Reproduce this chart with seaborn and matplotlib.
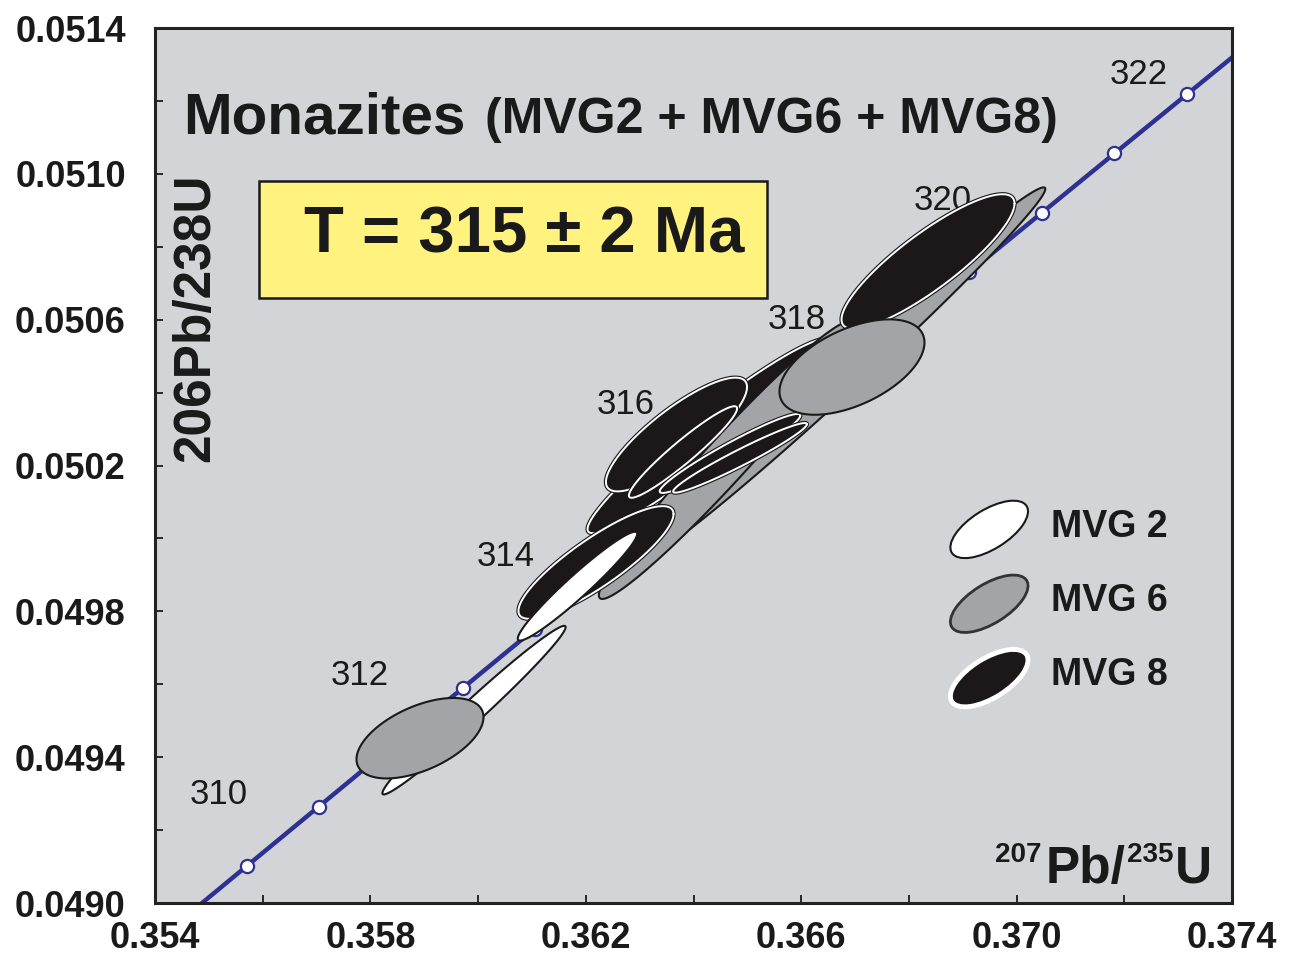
import numpy as np
import seaborn as sns
import matplotlib
matplotlib.use("Agg")
import matplotlib.pyplot as plt
from matplotlib.patches import Ellipse, Rectangle, Patch
from matplotlib.legend_handler import HandlerPatch

# concordia points, one per Ma (207Pb/235U, 206Pb/238U)
ages = [308, 309, 310, 311, 312, 313, 314, 315, 316, 317, 318, 319, 320, 321, 322, 323]
conc_x = [0.354366, 0.355701, 0.357037, 0.358374, 0.359712, 0.361052, 0.362393, 0.363736,
          0.365079, 0.366424, 0.367771, 0.369118, 0.370468, 0.371818, 0.373170, 0.374523]
conc_y = [0.048938, 0.049101, 0.049264, 0.049427, 0.049589, 0.049752, 0.049915, 0.050078,
          0.050241, 0.050404, 0.050567, 0.050730, 0.050893, 0.051056, 0.051219, 0.051382]
age_labels = [310, 312, 314, 316, 318, 320, 322]

# error ellipses, in drawing order (x, y, sx, sy, rho)
ell_group = ["MVG 6", "MVG 2", "MVG 6", "MVG 8", "MVG 6", "MVG 8", "MVG 8",
             "MVG 8", "MVG 8", "MVG 8", "MVG 2", "MVG 8", "MVG 6"]
ell_x = [0.366767, 0.359924, 0.358921, 0.364288, 0.364603, 0.363684, 0.363805,
         0.364678, 0.364863, 0.362189, 0.361846, 0.368355, 0.366943]
ell_y = [0.050451, 0.049529, 0.049452, 0.050281, 0.050215, 0.050285, 0.050237,
         0.050233, 0.050221, 0.049934, 0.049869, 0.0507595, 0.050470]
ell_sx = [0.003766, 0.001701, 0.001179, 0.002256, 0.002360, 0.001310, 0.0010046,
          0.0013055, 0.001242, 0.001440, 0.0011086, 0.0016063, 0.0013463]
ell_sy = [0.0005118, 0.0002312, 0.0001103, 0.0002666, 0.000381, 0.0001560, 0.0001256,
          0.0001083, 0.0000955, 0.0001545, 0.0001492, 0.0001846, 0.0001308]
ell_rho = [0.9915, 0.9845, 0.524, 0.9576, 0.9728, 0.835, 0.9497,
           0.958, 0.966, 0.860, 0.962, 0.861, 0.514]

x_ticks = [0.354, 0.358, 0.362, 0.366, 0.370, 0.374]
x_ticklabels = ["0.354", "0.358", "0.362", "0.366", "0.370", "0.374"]
y_ticks = [0.0490, 0.0494, 0.0498, 0.0502, 0.0506, 0.0510, 0.0514]
y_ticklabels = ["0.0490", "0.0494", "0.0498", "0.0502", "0.0506", "0.0510", "0.0514"]

legend_names = ["MVG 2", "MVG 6", "MVG 8"]

BG = "#D2D4D7"
BLUE = "#2E3192"
GRAY = "#A3A4A7"
BLACK = "#1C1819"
INK = "#1A1A1A"

sns.set_style("ticks")
plt.rcParams["font.family"] = ["Liberation Sans", "DejaVu Sans"]

fig = plt.figure(figsize=(12.91, 9.55), dpi=100)
ax = fig.add_axes([155 / 1291, 1 - 903 / 955, 1077 / 1291, 875 / 955])
ax.set_facecolor(BG)

# concordia curve + age markers
sns.lineplot(x=conc_x, y=conc_y, sort=False, estimator=None, color=BLUE, lw=3.2,
             ax=ax, zorder=2)
sns.scatterplot(x=conc_x, y=conc_y, s=90, color="white", edgecolor=BLUE,
                linewidth=1.6, ax=ax, zorder=2.5)

label_off = {310: (-72, 9), 312: (-74, 9), 314: (-73, 9), 316: (-91, 33),
             318: (-72, 9), 320: (-71, 9), 322: (-35, 14)}
for a in age_labels:
    i = ages.index(a)
    ax.annotate(str(a), (conc_x[i], conc_y[i]), xytext=label_off[a],
                textcoords="offset points", ha="center", va="center",
                fontsize=25, color=INK, zorder=1.5)

# ellipses
t = np.linspace(0, 2 * np.pi, 300)
for k in range(len(ell_x)):
    r = ell_rho[k]
    ex = ell_x[k] + ell_sx[k] * np.cos(t)
    ey = ell_y[k] + ell_sy[k] * (r * np.cos(t) + np.sqrt(1 - r * r) * np.sin(t))
    z = 3 + k * 0.1
    g = ell_group[k]
    if g == "MVG 8":
        ax.fill(ex, ey, facecolor=BLACK, edgecolor=INK, lw=3.0, zorder=z)
        ax.plot(ex, ey, color="white", lw=1.4, zorder=z + 0.01)
    elif g == "MVG 6":
        ax.fill(ex, ey, facecolor=GRAY, edgecolor=INK, lw=1.5, zorder=z)
    else:
        ax.fill(ex, ey, facecolor="white", edgecolor=INK, lw=1.5, zorder=z)

ax.set_xlim(0.354, 0.374)
ax.set_ylim(0.0490, 0.0514)
ax.set_xticks(x_ticks, x_ticklabels, fontsize=26, fontweight="bold", color=INK)
ax.set_yticks(y_ticks, y_ticklabels, fontsize=26, fontweight="bold", color=INK)
ax.set_xticks(np.arange(0.356, 0.374, 0.004), minor=True)
ax.set_yticks(np.arange(0.0492, 0.0514, 0.0004), minor=True)
ax.tick_params(which="both", direction="in", length=6, width=1.3, color=INK,
               top=False, right=False)
ax.tick_params(axis="x", pad=13)
ax.tick_params(axis="y", pad=21)
for s in ax.spines.values():
    s.set_linewidth(2.2)
    s.set_color("#222222")
ax.set_xlabel("")
ax.set_ylabel("")

# title
ax.text(0.026, 0.88, "Monazites", fontsize=42, fontweight="bold", color=INK,
        ha="left", va="baseline", transform=ax.transAxes)
ax.text(0.306, 0.88, "(MVG2 + MVG6 + MVG8)", fontsize=36, fontweight="bold",
        color=INK, ha="left", va="baseline", transform=ax.transAxes)

# age box
ax.add_patch(Rectangle((0.0966, 0.6914), 0.4717, 0.1337, transform=ax.transAxes,
                       facecolor="#FFF27F", edgecolor=INK, lw=1.8, zorder=5))
ax.text(0.3426, 0.7634, "T = 315 ± 2 Ma", fontsize=47, fontweight="bold", color=INK,
        ha="center", va="center", transform=ax.transAxes, zorder=6)

# axis labels inside the frame
ax.text(0.038, 0.669, "206Pb/238U", rotation=90, fontsize=37, fontweight="bold",
        color=INK, ha="center", va="center", transform=ax.transAxes)
u_txt = ax.text(0.9814, 0.0229, "U", fontsize=37, fontweight="bold", color=INK,
                ha="right", va="baseline", transform=ax.transAxes)
sup2 = ax.annotate("235", xy=(0, 0.0229), xycoords=(u_txt, "axes fraction"),
                   xytext=(-1, 15), textcoords="offset points", ha="right",
                   va="baseline", fontsize=20, fontweight="bold", color=INK)
pb = ax.annotate("Pb/", xy=(0, 0.0229), xycoords=(sup2, "axes fraction"),
                 xytext=(-1, 0), textcoords="offset points", ha="right",
                 va="baseline", fontsize=37, fontweight="bold", color=INK)
ax.annotate("207", xy=(0, 0.0229), xycoords=(pb, "axes fraction"),
            xytext=(-3, 15), textcoords="offset points", ha="right",
            va="baseline", fontsize=20, fontweight="bold", color=INK)


# legend with ellipse handles
class EllipseHandler(HandlerPatch):
    def create_artists(self, legend, orig_handle, xdescent, ydescent, width,
                       height, fontsize, trans):
        cx = 0.5 * width - xdescent
        cy = 0.5 * height - ydescent - 4
        e = Ellipse((cx, cy), width * 1.12, width * 0.5, angle=32)
        self.update_prop(e, orig_handle, legend)
        e.set_transform(trans)
        return [e]


handles = [Patch(facecolor="white", edgecolor=INK, lw=1.5),
           Patch(facecolor=GRAY, edgecolor="#333333", lw=2),
           Patch(facecolor=BLACK, edgecolor="white", lw=3.5)]
leg = ax.legend(handles, legend_names, loc="center left",
                bbox_to_anchor=(0.738, 0.346), frameon=False,
                prop={"weight": "bold", "size": 27}, handlelength=2.1,
                handleheight=1.0, handletextpad=0.6, labelspacing=0.98,
                borderpad=0, borderaxespad=0,
                handler_map={Patch: EllipseHandler()})
for txt in leg.get_texts():
    txt.set_color(INK)

fig.savefig("out.png", dpi=100, facecolor="white")
